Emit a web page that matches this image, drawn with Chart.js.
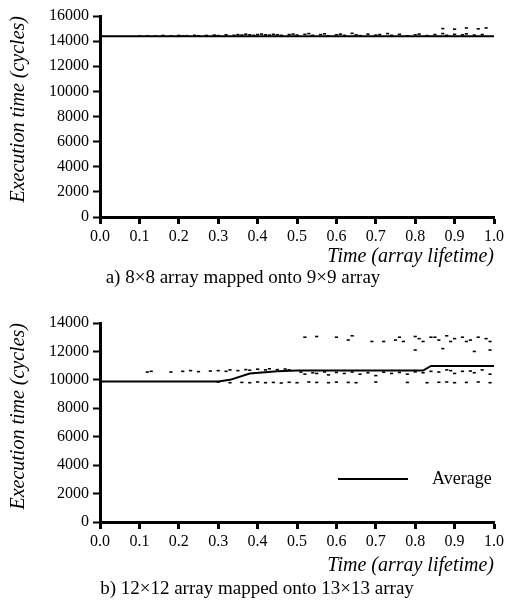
<!DOCTYPE html>
<html>
<head>
<meta charset="utf-8">
<script src="https://cdn.jsdelivr.net/npm/chart.js@4.4.0/dist/chart.umd.min.js"></script>
<style>
    body { margin: 0; background: #fff; width: 507px; height: 602px; position: relative; overflow: hidden; font-family: 'Liberation Serif', serif; }
    .box { position: absolute; left: 0; width: 507px; }
    .caption { position: absolute; font-size: 19px; color: #000; white-space: nowrap; transform: translate(-50%, -50%); }
    .legend { position: absolute; left: 338px; top: 468px; font-size: 18px; display: flex; align-items: center; }
    .legend span.swatch { display: inline-block; width: 70px; border-top: 2px solid #000; margin-right: 24px; }
</style>
</head>
<body>
<div class="box" style="top:0; height:290px;"><canvas id="topChart"></canvas></div>
<div class="box" style="top:290px; height:312px;"><canvas id="bottomChart"></canvas></div>
<div class="caption" style="left:243px; top:277px;">a) 8×8 array mapped onto 9×9 array</div>
<div class="caption" style="left:257px; top:588px;">b) 12×12 array mapped onto 13×13 array</div>
<div class="legend"><span class="swatch"></span>Average</div>
<script>
// Shared labels
const X_TITLE = 'Time (array lifetime)';
const Y_TITLE = 'Execution time (cycles)';
const X_TICKS = [0, 0.1, 0.2, 0.3, 0.4, 0.5, 0.6, 0.7, 0.8, 0.9, 1.0];

// a) 8x8 onto 9x9 - average and individual runs
const topAvgX = [0.0, 1.0];
const topAvgY = [14380, 14380];
const topDotsX = [0.10, 0.12, 0.14, 0.16, 0.18, 0.20, 0.21, 0.22, 0.24, 0.25, 0.27, 0.29, 0.30, 0.32, 0.34,
    0.35, 0.36, 0.37, 0.38, 0.39, 0.40, 0.41, 0.42, 0.43, 0.44, 0.45, 0.46, 0.48, 0.49, 0.50, 0.52, 0.53,
    0.54, 0.56, 0.57, 0.58, 0.60, 0.61, 0.62, 0.64, 0.65, 0.66, 0.68, 0.70, 0.71, 0.73, 0.74, 0.76, 0.78,
    0.80, 0.81, 0.83, 0.85, 0.87, 0.88, 0.90, 0.92, 0.93, 0.95, 0.97,
    0.87, 0.90, 0.93, 0.96, 0.98];
const topDotsY = [14400, 14420, 14400, 14450, 14420, 14450, 14400, 14430, 14460, 14420, 14450, 14480, 14440, 14500, 14460,
    14520, 14480, 14550, 14500, 14460, 14520, 14560, 14500, 14480, 14540, 14500, 14460, 14520, 14560, 14480, 14540, 14600,
    14460, 14520, 14580, 14420, 14500, 14560, 14460, 14620, 14500, 14440, 14560, 14480, 14520, 14600, 14460, 14540, 14420,
    14500, 14560, 14440, 14520, 14600, 14460, 14540, 14500, 14580, 14480, 14520,
    15000, 14950, 15050, 14980, 15050];

// b) 12x12 onto 13x13 - average and individual runs
const botAvgX = [0.0, 0.30, 0.33, 0.38, 0.45, 0.50, 0.82, 0.84, 1.0];
const botAvgY = [9880, 9880, 10000, 10450, 10600, 10650, 10650, 10980, 10980];
const botDotsX = [0.12, 0.13, 0.18, 0.21, 0.23, 0.25, 0.28, 0.30, 0.32, 0.33, 0.35, 0.37, 0.38, 0.40, 0.42, 0.43, 0.45, 0.47, 0.48,
    0.30, 0.33, 0.36, 0.38, 0.40, 0.42, 0.44, 0.46, 0.48, 0.50, 0.53, 0.55, 0.58, 0.60, 0.63, 0.65, 0.70, 0.78, 0.83, 0.86, 0.88, 0.90, 0.93, 0.96, 0.99,
    0.52, 0.55, 0.58, 0.62, 0.66, 0.70, 0.74, 0.78, 0.82, 0.86, 0.88, 0.90, 0.92, 0.95, 0.97, 0.99,
    0.51, 0.54, 0.57, 0.60, 0.64, 0.68, 0.72, 0.76, 0.80, 0.84, 0.89, 0.94,
    0.52, 0.55, 0.60, 0.63, 0.64, 0.69, 0.72, 0.75, 0.76, 0.77, 0.80, 0.81, 0.82, 0.84, 0.85, 0.86, 0.88, 0.89,
    0.90, 0.92, 0.93, 0.94, 0.96, 0.98, 0.99, 0.80, 0.87, 0.95, 0.99];
const botDotsY = [10550, 10600, 10550, 10600, 10650, 10580, 10620, 10650, 10600, 10700, 10650, 10720, 10680, 10750, 10700, 10780, 10720, 10760, 10700,
    9850, 9800, 9820, 9800, 9850, 9800, 9820, 9780, 9830, 9800, 9850, 9820, 9800, 9840, 9820, 9800, 9850, 9820, 9800, 9830, 9850, 9800, 9820, 9850, 9800,
    10400, 10450, 10350, 10450, 10400, 10300, 10450, 10400, 10500, 10550, 10700, 10450, 10600, 10500, 10700, 10400,
    10550, 10500, 10560, 10520, 10550, 10500, 10540, 10520, 10560, 10600, 10650, 10620,
    13000, 13050, 13000, 12800, 13100, 12700, 12700, 12800, 13000, 12700, 13050, 12900, 12700, 13000, 13000, 12800, 13100, 12700,
    12900, 13000, 12700, 12800, 13000, 12900, 12700, 12100, 12200, 12000, 12100];

function toPoints(xs, ys) {
    return xs.map((x, i) => ({ x: x, y: ys[i] }));
}

function makeChart(id, opts) {
    const ctx = document.getElementById(id);
    return new Chart(ctx, {
        type: 'scatter',
        data: {
            datasets: [
                {
                    label: 'Runs',
                    data: toPoints(opts.dotsX, opts.dotsY),
                    showLine: false,
                    pointStyle: 'line',
                    pointRadius: 1.6,
                    borderWidth: 1.6,
                    borderColor: '#000',
                    backgroundColor: '#000'
                },
                {
                    label: 'Average',
                    type: 'line',
                    data: toPoints(opts.avgX, opts.avgY),
                    borderColor: '#000',
                    borderWidth: 2,
                    pointRadius: 0,
                    tension: 0,
                    fill: false
                }
            ]
        },
        options: {
            responsive: true,
            maintainAspectRatio: false,
            animation: false,
            layout: {
                padding: { top: opts.padTop, right: 11, bottom: opts.padBottom, left: 0 }
            },
            scales: {
                x: {
                    type: 'linear',
                    min: 0,
                    max: 1,
                    afterBuildTicks: function(scale) {
                        scale.ticks = X_TICKS.map(v => ({ value: v }));
                    },
                    afterFit: function(scale) {
                        scale.height = opts.xHeight;
                    },
                    border: { display: true, color: '#000', width: 3 },
                    grid: { drawOnChartArea: false, drawTicks: true, tickLength: 7, tickWidth: 3, tickColor: '#000' },
                    ticks: {
                        color: '#000',
                        padding: 3,
                        maxRotation: 0,
                        font: { family: 'Liberation Serif', size: 16 },
                        callback: function(value) {
                            return Number(value).toFixed(1);
                        }
                    },
                    title: {
                        display: true,
                        text: X_TITLE,
                        align: 'end',
                        color: '#000',
                        padding: 0,
                        font: { family: 'Liberation Serif', size: 20, style: 'italic' }
                    }
                },
                y: {
                    min: 0,
                    max: opts.yMax,
                    afterFit: function(scale) {
                        scale.width = 100;
                    },
                    border: { display: true, color: '#000', width: 3 },
                    grid: { drawOnChartArea: false, drawTicks: true, tickLength: 7, tickWidth: 2, tickColor: '#000' },
                    ticks: {
                        stepSize: 2000,
                        color: '#000',
                        padding: 4,
                        font: { family: 'Liberation Serif', size: 16 },
                        callback: function(value) {
                            return String(value);
                        }
                    },
                    title: {
                        display: true,
                        text: Y_TITLE,
                        align: 'end',
                        color: '#000',
                        padding: { top: 7, bottom: 0 },
                        font: { family: 'Liberation Serif', size: 20, style: 'italic' }
                    }
                }
            },
            plugins: {
                legend: { display: false },
                tooltip: { enabled: false }
            }
        }
    });
}

makeChart('topChart', {
    dotsX: topDotsX, dotsY: topDotsY, avgX: topAvgX, avgY: topAvgY,
    yMax: 16000, padTop: 16, padBottom: 21, xHeight: 52
});

makeChart('bottomChart', {
    dotsX: botDotsX, dotsY: botDotsY, avgX: botAvgX, avgY: botAvgY,
    yMax: 14000, padTop: 33, padBottom: 24, xHeight: 56
});
</script>
</body>
</html>
